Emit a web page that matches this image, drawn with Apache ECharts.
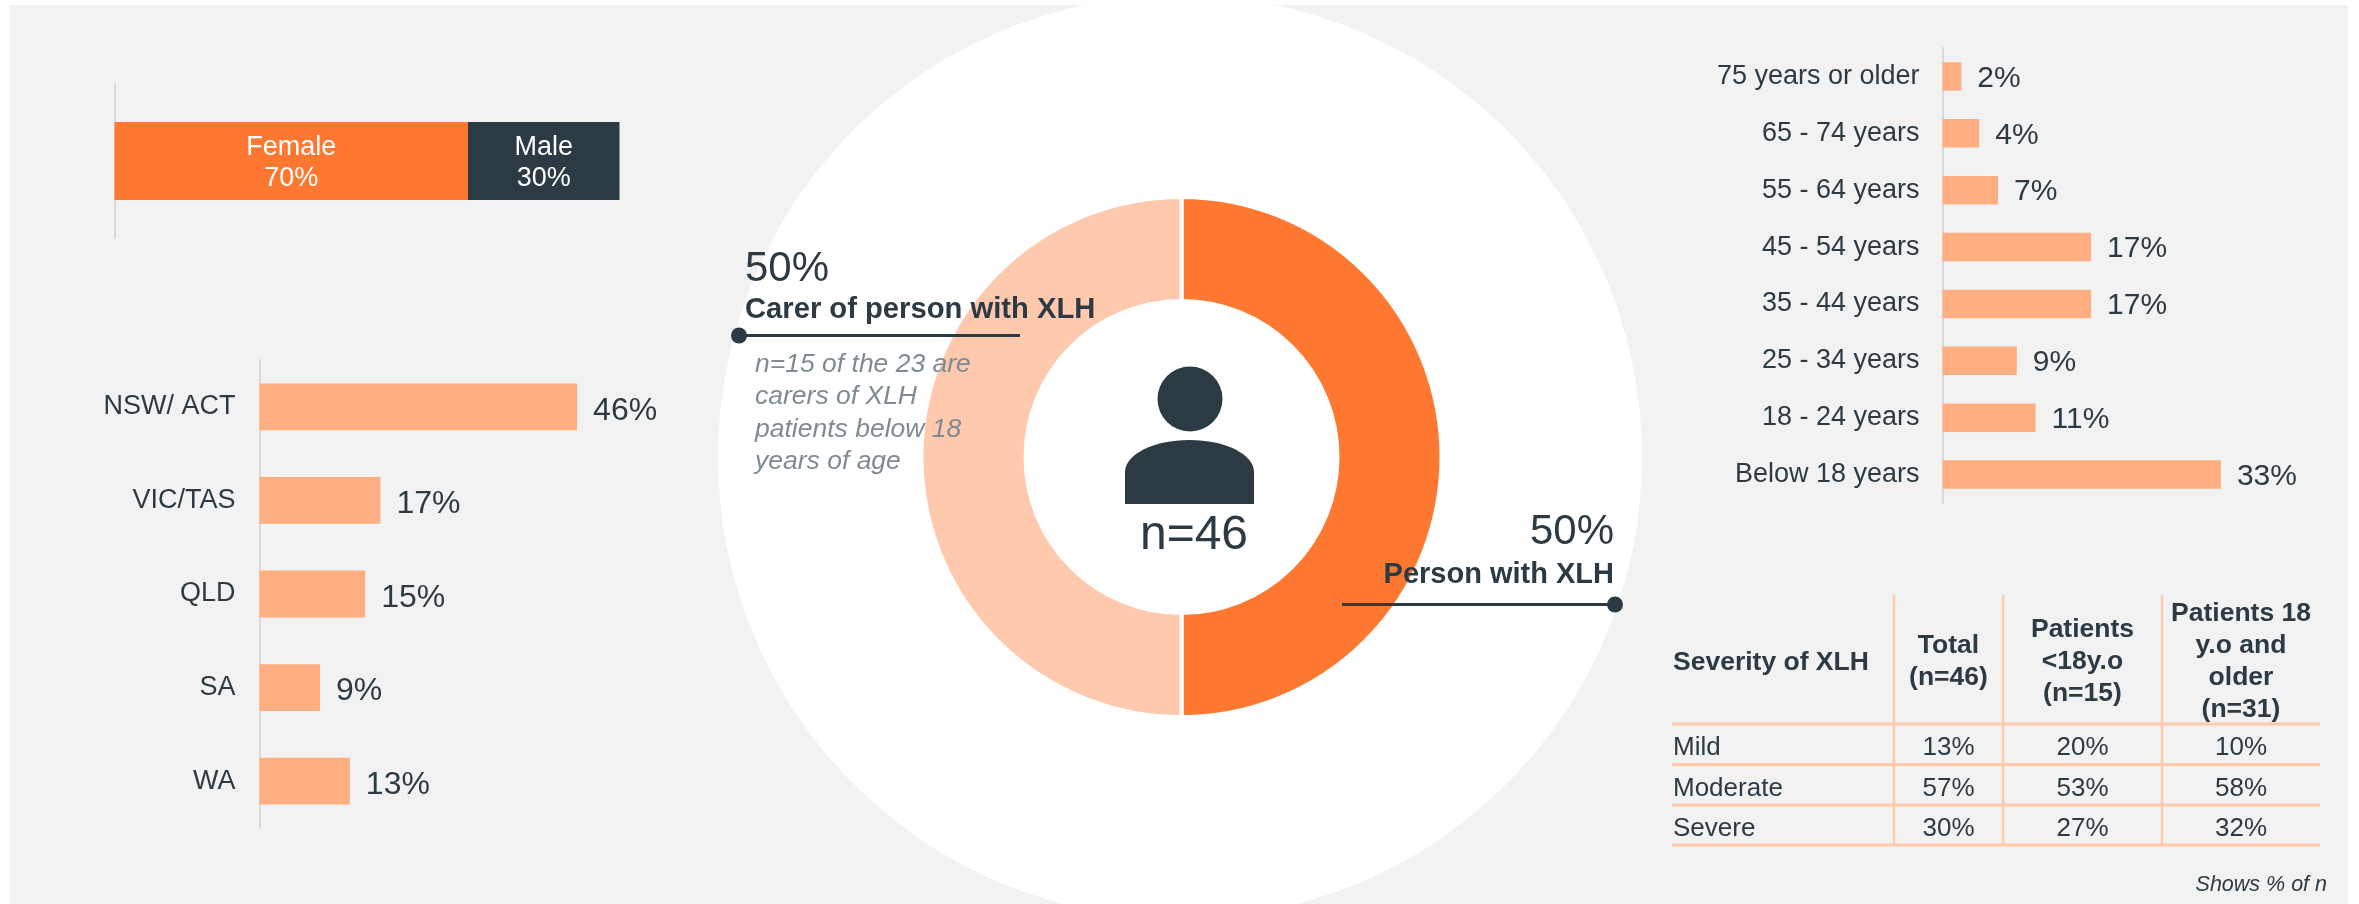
<!DOCTYPE html>
<html>
<head>
<meta charset="utf-8">
<title>XLH respondents</title>
<script src="https://cdn.jsdelivr.net/npm/echarts@6/dist/echarts.min.js"></script>
<style>
  html, body { margin: 0; padding: 0; background: #fff; }
  #main { width: 2359px; height: 904px; }
</style>
</head>
<body>
<div id="main"></div>
<script>
// gender
var genderNames = ['Female', 'Male'];
var genderValues = [70, 30];

// state, labels are rounded from these
var stateNames = ['NSW/ ACT', 'VIC/TAS', 'QLD', 'SA', 'WA'];
var stateValues = [45.7, 17.4, 15.2, 8.7, 13.0];

// age, labels are rounded from these
var ageNames = ['75 years or older', '65 - 74 years', '55 - 64 years', '45 - 54 years',
  '35 - 44 years', '25 - 34 years', '18 - 24 years', 'Below 18 years'];
var ageValues = [2.2, 4.3, 6.5, 17.4, 17.4, 8.7, 10.9, 32.6];

// donut
var roleNames = ['Person with XLH', 'Carer of person with XLH'];
var roleValues = [50, 50];
var sampleLabel = 'n=46';
var carerNote = 'n=15 of the 23 are\ncarers of XLH\npatients below 18\nyears of age';

// severity table
var tableHeaders = ['Severity of XLH', 'Total\n(n=46)', 'Patients\n<18y.o\n(n=15)', 'Patients 18\ny.o and\nolder\n(n=31)'];
var severityNames = ['Mild', 'Moderate', 'Severe'];
var severityTotal = ['13%', '57%', '30%'];
var severityUnder18 = ['20%', '53%', '27%'];
var severityOver18 = ['10%', '58%', '32%'];
var footNote = 'Shows % of n';

var FONT = '"Liberation Sans", Arial, sans-serif';
var DARK = '#2c3a44';
var ORANGE = '#ff7832';
var LIGHT = '#ffae82';
var PALE = '#ffc9ae';
var AXIS = '#d9d9d9';

function txt(x, y, text, size, opts) {
  opts = opts || {};
  return {
    type: 'text',
    z: 20,
    silent: true,
    style: {
      x: x,
      y: y,
      text: text,
      fontFamily: FONT,
      fontSize: size,
      fontWeight: opts.weight || 'normal',
      fontStyle: opts.style || 'normal',
      lineHeight: opts.lineHeight || size * 1.2,
      fill: opts.color || DARK,
      align: opts.align || 'left',
      verticalAlign: 'middle'
    }
  };
}

function seg(x1, y1, x2, y2, color, width) {
  return {
    type: 'line',
    z: 15,
    silent: true,
    shape: { x1: x1, y1: y1, x2: x2, y2: y2 },
    style: { stroke: color, lineWidth: width }
  };
}

function dot(x, y) {
  return { type: 'circle', z: 20, silent: true, shape: { cx: x, cy: y, r: 8 }, style: { fill: DARK } };
}

function hBar(gridIndex, values, fontSize, offset) {
  return {
    type: 'bar',
    xAxisIndex: gridIndex,
    yAxisIndex: gridIndex,
    data: values,
    barWidth: '50%',
    silent: true,
    itemStyle: { color: LIGHT },
    label: {
      show: true,
      position: 'right',
      distance: 15,
      offset: offset,
      fontFamily: FONT,
      fontSize: fontSize,
      color: DARK,
      formatter: function (p) { return Math.round(p.value) + '%'; }
    }
  };
}

function catAxis(gridIndex, names, margin, padTop) {
  return {
    type: 'category',
    gridIndex: gridIndex,
    data: names,
    inverse: true,
    axisLine: { show: true, lineStyle: { color: AXIS, width: 2 } },
    axisTick: { show: false },
    axisLabel: {
      show: names.length > 1,
      margin: margin,
      padding: [padTop, 0, 0, 0],
      fontFamily: FONT,
      fontSize: 27,
      color: DARK
    }
  };
}

function valAxis(gridIndex, max) {
  return { type: 'value', gridIndex: gridIndex, min: 0, max: max, show: false, splitLine: { show: false } };
}

// table pieces
var colLines = [1894, 2003, 2162];
var rowLines = [724, 764.5, 805, 845];
var colCenters = [1948.5, 2082.5, 2241];
var rowCenters = [748, 788.5, 828.5];
var tableParts = [];
colLines.forEach(function (x) { tableParts.push(seg(x, 595, x, 846, PALE, 2.5)); });
rowLines.forEach(function (y) { tableParts.push(seg(1672, y, 2320, y, PALE, 3)); });
tableParts.push(txt(1673, 663, tableHeaders[0], 26.5, { weight: 'bold' }));
colCenters.forEach(function (x, i) {
  tableParts.push(txt(x, 662, tableHeaders[i + 1], 26.5, { weight: 'bold', align: 'center', lineHeight: 32 }));
});
severityNames.forEach(function (name, i) {
  tableParts.push(txt(1673, rowCenters[i], name, 26));
  tableParts.push(txt(colCenters[0], rowCenters[i], severityTotal[i], 26, { align: 'center' }));
  tableParts.push(txt(colCenters[1], rowCenters[i], severityUnder18[i], 26, { align: 'center' }));
  tableParts.push(txt(colCenters[2], rowCenters[i], severityOver18[i], 26, { align: 'center' }));
});

var chart = echarts.init(document.getElementById('main'), null, { renderer: 'canvas' });

chart.setOption({
  animation: false,
  backgroundColor: '#ffffff',
  graphic: {
    elements: [
      { type: 'rect', z: -20, silent: true, shape: { x: 10, y: 5, width: 2338, height: 899 }, style: { fill: '#f2f2f2' } },
      { type: 'circle', z: -10, silent: true, shape: { cx: 1180, cy: 457, r: 462 }, style: { fill: '#ffffff' } },

      // person icon
      { type: 'circle', z: 20, silent: true, shape: { cx: 1190, cy: 399, r: 32.5 }, style: { fill: DARK } },
      { type: 'ellipse', z: 20, silent: true, shape: { cx: 1189.5, cy: 472, rx: 64.5, ry: 32 }, style: { fill: DARK } },
      { type: 'rect', z: 20, silent: true, shape: { x: 1125, y: 472, width: 129, height: 32 }, style: { fill: DARK } },
      txt(1194, 536, sampleLabel, 48, { align: 'center' }),

      // carer callout
      txt(745, 269, roleValues[1] + '%', 42),
      txt(745, 310, roleNames[1], 29.2, { weight: 'bold' }),
      seg(740, 335.5, 1020, 335.5, DARK, 3),
      dot(739, 335.5),
      txt(755, 413, carerNote, 26.5, { style: 'italic', color: '#7f8b92', lineHeight: 32.5 }),

      // person callout
      txt(1614, 532, roleValues[0] + '%', 42, { align: 'right' }),
      txt(1614, 575, roleNames[0], 29, { weight: 'bold', align: 'right' }),
      seg(1342, 604.5, 1615, 604.5, DARK, 3),
      dot(1615, 604.5),

      txt(2327, 885, footNote, 21.5, { style: 'italic', align: 'right' })
    ].concat(tableParts)
  },
  grid: [
    { left: 114.5, top: 84, width: 505, height: 154 },
    { left: 259.5, top: 360, width: 347.5, height: 468 },
    { left: 1942.5, top: 48, width: 341.6, height: 455 }
  ],
  xAxis: [valAxis(0, 100), valAxis(1, 50), valAxis(2, 40)],
  yAxis: [
    catAxis(0, ['Gender'], 0, 0),
    catAxis(1, stateNames, 24, 8),
    catAxis(2, ageNames, 23, 5)
  ],
  series: genderNames.map(function (name, i) {
    return {
      type: 'bar',
      name: name,
      xAxisIndex: 0,
      yAxisIndex: 0,
      stack: 'gender',
      data: [genderValues[i]],
      barWidth: '50.6%',
      silent: true,
      itemStyle: { color: i === 0 ? ORANGE : DARK },
      label: {
        show: true,
        position: 'inside',
        offset: [0, 2],
        fontFamily: FONT,
        fontSize: 27,
        lineHeight: 31,
        color: '#ffffff',
        formatter: function (p) { return p.seriesName + '\n' + p.value + '%'; }
      }
    };
  }).concat([
    hBar(1, stateValues, 32, [1, 4]),
    hBar(2, ageValues, 30, [1, 2]),
    {
      type: 'pie',
      center: [1181.5, 457],
      radius: [156, 260],
      startAngle: 90,
      clockwise: true,
      silent: true,
      label: { show: false },
      labelLine: { show: false },
      itemStyle: { borderColor: '#ffffff', borderWidth: 4 },
      data: roleNames.map(function (name, i) {
        return { name: name, value: roleValues[i], itemStyle: { color: i === 0 ? ORANGE : PALE } };
      })
    }
  ])
});
</script>
</body>
</html>
